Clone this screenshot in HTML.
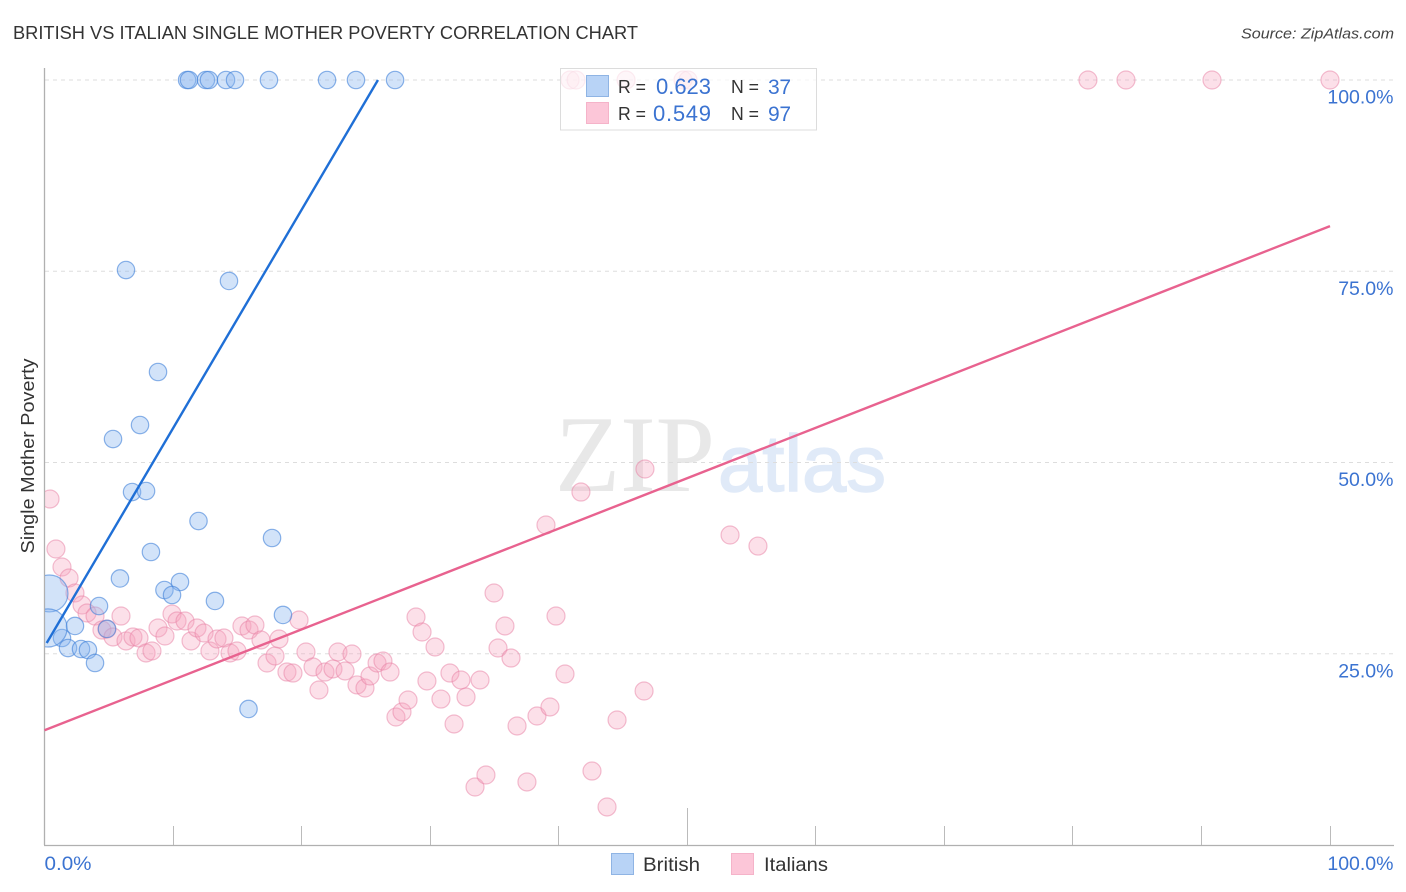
<!DOCTYPE html>
<html lang="en">
<head>
<meta charset="utf-8">
<title>British vs Italian Single Mother Poverty Correlation Chart</title>
<style>
html,body{margin:0;padding:0;background:#fff;}
svg{display:block;font-family:"Liberation Sans",sans-serif;}
</style>
</head>
<body>
<svg id="chart" width="1406" height="892" viewBox="0 0 1406 892" xmlns="http://www.w3.org/2000/svg">
  <defs>
    <clipPath id="plot-clip"><rect x="45" y="60" width="1349" height="785"></rect></clipPath>
  </defs>
  <text x="13" y="39" font-size="18.5" fill="#333" textLength="625" lengthAdjust="spacingAndGlyphs">BRITISH VS ITALIAN SINGLE MOTHER POVERTY CORRELATION CHART</text>
  <text x="1394" y="38.500" font-size="15" font-style="italic" fill="#444" text-anchor="end" textLength="153" lengthAdjust="spacingAndGlyphs">Source: ZipAtlas.com</text>
  <text transform="translate(34 456) rotate(-90)" font-size="18.500" fill="#333" text-anchor="middle" textLength="195" lengthAdjust="spacingAndGlyphs">Single Mother Poverty</text>

  <g>
    <text x="555" y="491" font-family="'Liberation Serif',serif" font-size="109" fill="#e8e8e8" textLength="160" lengthAdjust="spacingAndGlyphs">ZIP</text>
    <text x="718" y="491" font-family="'Liberation Sans',sans-serif" font-size="80" fill="#e0eaf8" stroke="#e0eaf8" stroke-width="1.500" textLength="168" lengthAdjust="spacingAndGlyphs">atlas</text>
  </g>

  <g id="grid"></g>
  <g id="axes"></g>
  <g id="points" clip-path="url(#plot-clip)"></g>
  <g id="trends"></g>

  <g>
    <rect x="560.500" y="68.500" width="256" height="61.500" fill="#fff" fill-opacity="0.7" stroke="#dcdcdc"></rect>
    <rect x="586.500" y="75.500" width="22" height="21" fill="#b8d3f6" stroke="#8fb4e4"></rect>
    <rect x="586.500" y="102.500" width="22" height="21" fill="#fcc6d8" stroke="#f5b3c9"></rect>
    <text x="618" y="93" font-size="18.500" fill="#333" textLength="28" lengthAdjust="spacingAndGlyphs">R =</text>
    <text x="656" y="94" font-size="22" fill="#3b73d1" textLength="55">0.623</text>
    <text x="731" y="93" font-size="18.500" fill="#333" textLength="28" lengthAdjust="spacingAndGlyphs">N =</text>
    <text x="768" y="94" font-size="21" fill="#3b73d1" textLength="23">37</text>
    <text x="618" y="120" font-size="18.500" fill="#333" textLength="28" lengthAdjust="spacingAndGlyphs">R =</text>
    <text x="653" y="121" font-size="22" fill="#3b73d1" textLength="58">0.549</text>
    <text x="731" y="120" font-size="18.500" fill="#333" textLength="28" lengthAdjust="spacingAndGlyphs">N =</text>
    <text x="768" y="121" font-size="21" fill="#3b73d1" textLength="23">97</text>
  </g>

  <g>
    <rect x="611.500" y="853.500" width="22" height="21" fill="#b8d3f6" stroke="#8fb4e4"></rect>
    <text x="643" y="871" font-size="19.500" fill="#333" textLength="57" lengthAdjust="spacingAndGlyphs">British</text>
    <rect x="731.500" y="853.500" width="22" height="21" fill="#fcc6d8" stroke="#f5b3c9"></rect>
    <text x="764" y="871" font-size="19.500" fill="#333" textLength="64" lengthAdjust="spacingAndGlyphs">Italians</text>
  </g>
</svg>
<script>
var xTickValues = [0,10,20,30,40,50,60,70,80,90,100];
var xTickLabels = ["0.0%","100.0%"];
var yTickValues = [25,50,75,100];
var yTickLabels = ["25.0%","50.0%","75.0%","100.0%"];

var britishX = [11.09,11.24,12.56,12.79,14.12,14.82,17.46,21.98,24.23,27.27,6.34,14.35,8.83,7.43,5.33,6.81,7.90,11.98,17.70,8.28,5.87,10.54,9.33,9.92,13.26,4.24,18.55,2.37,4.86,1.36,1.83,2.84,3.38,3.93,15.87,0.39,0.27];
var britishY = [100,100,100,100,100,100,100,100,100,100,75.16,73.73,61.83,54.90,53.07,46.14,46.27,42.35,40.13,38.30,34.84,34.38,33.33,32.68,31.90,31.24,30.07,28.63,28.24,27.06,25.75,25.62,25.49,23.79,17.78,32.88,28.37];
var britishWeight = [1,1,1,1,1,1,1,1,1,1,1,1,1,1,1,1,1,1,1,1,1,1,1,1,1,1,1,1,1,1,1,1,1,1,1,4.5,4.8];

var italiansX = [0.43,0.89,1.36,1.91,2.37,2.92,3.31,3.93,4.47,4.86,5.33,5.95,6.34,6.88,7.35,7.90,8.36,8.83,9.37,9.92,10.31,10.93,11.40,11.86,12.41,12.87,13.42,13.96,14.43,14.97,15.36,15.91,16.37,16.84,17.31,17.93,18.24,18.86,19.33,19.80,20.34,20.89,21.35,21.82,22.44,22.83,23.38,23.92,24.31,24.93,25.32,25.87,26.33,26.88,27.34,27.81,28.28,28.90,29.37,29.75,30.38,30.84,31.54,31.86,32.40,32.79,33.49,33.88,34.34,34.97,35.28,35.82,36.29,36.76,37.53,38.31,39.01,39.32,39.79,40.49,41.73,42.59,43.76,44.54,46.64,46.71,53.33,55.50,40.88,41.35,45.24,49.67,50.06,81.17,84.13,90.82,100];
var italiansY = [45.23,38.69,36.34,34.90,32.94,31.37,30.33,29.93,28.10,28.24,27.19,29.93,26.67,27.19,27.06,25.10,25.36,28.37,27.32,30.20,29.28,29.28,26.67,28.37,27.71,25.36,26.93,27.06,25.10,25.36,28.63,28.10,28.76,26.80,23.79,24.71,26.93,22.61,22.48,29.41,25.23,23.27,20.26,22.61,23.01,25.23,22.75,24.97,20.92,20.52,22.09,23.79,24.05,22.61,16.73,17.39,18.95,29.80,27.84,21.44,25.88,19.08,22.48,15.82,21.57,19.35,7.58,21.57,9.15,32.94,25.75,28.63,24.44,15.56,8.24,16.86,41.83,18.04,29.93,22.35,46.14,9.67,4.97,16.34,20.13,49.15,40.52,39.08,100,100,100,100,100,100,100,100,100];

var britishTrendX = [0.17,25.94];
var britishTrendY = [26.4,100];
var italiansTrendX = [0,100];
var italiansTrendY = [15.0,80.9];

var NS = 'http://www.w3.org/2000/svg';
function scaleX(v){ return 44.5 + v * 12.855; }
function scaleY(v){ return 845 - v * 7.65; }
function make(tag, parent, attrs){
  var el = document.createElementNS(NS, tag);
  for (var k in attrs) el.setAttribute(k, attrs[k]);
  parent.appendChild(el);
  return el;
}

var grid = document.getElementById('grid');
var axes = document.getElementById('axes');
var points = document.getElementById('points');
var trends = document.getElementById('trends');

yTickValues.forEach(function(v, i){
  var y = scaleY(v);
  var line = make('line', grid, {x1:45, x2:1394, y1:y, y2:y, stroke:'#dddddd', 'stroke-width':1, 'stroke-dasharray':'4 4'});
  
  
  var label = make('text', axes, {x:1393.500, y:y + 23.500, 'font-size':19.500, fill:'#3b73d1', 'text-anchor':'end'});
  label.textContent = yTickLabels[i];
  
  
});

xTickValues.forEach(function(v){
  var x = Math.floor(scaleX(v)) + 0.5;
  var tick = make('line', axes, {x1:x, x2:x, y1:(v === 50 ? 808 : 826), y2:845, stroke:'#bbbbbb', 'stroke-width':1});
  
  
});

var yAxis = make('line', axes, {x1:44.500, x2:44.500, y1:68, y2:845, stroke:'#b0b0b0', 'stroke-width':1.300});


var xAxis = make('line', axes, {x1:44, x2:1394, y1:845.500, y2:845.500, stroke:'#b0b0b0', 'stroke-width':1.300});



var xLabelStart = make('text', axes, {x:44.500, y:870, 'font-size':19.500, fill:'#3b73d1', textLength:47, lengthAdjust:'spacingAndGlyphs'});
xLabelStart.textContent = xTickLabels[0];


var xLabelEnd = make('text', axes, {x:1393.500, y:870, 'font-size':19.500, fill:'#3b73d1', 'text-anchor':'end'});
xLabelEnd.textContent = xTickLabels[1];



italiansX.forEach(function(v, i){
  var dot = make('circle', points, {cx:scaleX(v), cy:scaleY(italiansY[i]), r:9, fill:'#f6a3bf', 'fill-opacity':0.34, stroke:'#e87fa3', 'stroke-opacity':0.5, 'stroke-width':1.200});
  
  
});
britishX.forEach(function(v, i){
  var dot = make('circle', points, {cx:scaleX(v), cy:scaleY(britishY[i]), r:8.700 * Math.sqrt(britishWeight[i]), fill:'#8ab6ee', 'fill-opacity':0.38, stroke:'#3f80d8', 'stroke-opacity':0.6, 'stroke-width':1.200});
  
  
});

var blueLine = make('line', trends, {x1:scaleX(britishTrendX[0]), y1:scaleY(britishTrendY[0]), x2:scaleX(britishTrendX[1]), y2:scaleY(britishTrendY[1]), stroke:'#1f6fd6', 'stroke-width':2.400});


var pinkLine = make('line', trends, {x1:scaleX(italiansTrendX[0]), y1:scaleY(italiansTrendY[0]), x2:scaleX(italiansTrendX[1]), y2:scaleY(italiansTrendY[1]), stroke:'#e8628f', 'stroke-width':2.400});


</script>
</body>
</html>
